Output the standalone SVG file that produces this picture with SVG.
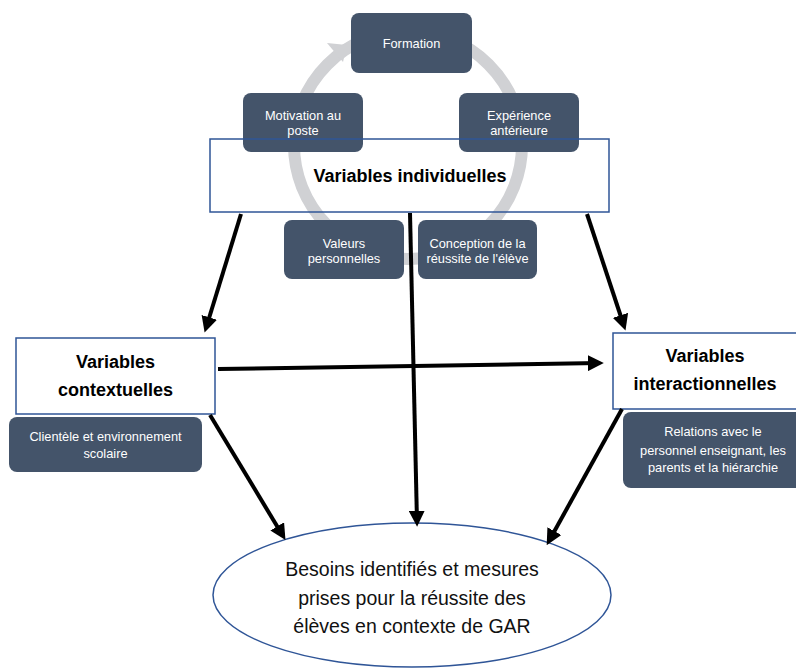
<svg xmlns="http://www.w3.org/2000/svg" width="796" height="670" viewBox="0 0 796 670">
<style>
.dk{fill:#44546A;}
.wt{font-family:"Liberation Sans",Arial,sans-serif;font-size:12.8px;fill:#ffffff;text-anchor:middle;}
.vb{fill:#ffffff;stroke:#2F5597;stroke-width:1.5;}
.vt{font-family:"Liberation Sans",Arial,sans-serif;font-size:18px;font-weight:bold;fill:#000000;text-anchor:middle;}
.bt{font-family:"Liberation Sans",Arial,sans-serif;font-size:19.5px;fill:#111111;text-anchor:middle;}
.ar{stroke:#000000;stroke-width:4;fill:none;marker-end:url(#ah);}
</style>
<defs>
<marker id="ah" viewBox="0 0 10 10" refX="7" refY="5" markerWidth="4" markerHeight="4" orient="auto" markerUnits="strokeWidth">
<path d="M0,0 L10,5 L0,10 z" fill="#000000"/>
</marker>
</defs>
<rect width="796" height="670" fill="#ffffff"/>
<g id="cycle">
<circle cx="408" cy="145" r="114" fill="none" stroke="#D0D1D4" stroke-width="12"/>
<polygon points="347,45 327,43 343,62" fill="#D0D1D4"/>
</g>
<g id="formation">
<rect class="dk" x="351" y="13" width="121" height="60" rx="8"/>
<text class="wt" x="411.5" y="47.5">Formation</text>
</g>
<g id="motivation">
<rect class="dk" x="243" y="93" width="120" height="59" rx="8"/>
<text class="wt" x="303" y="119.5">Motivation au</text>
<text class="wt" x="303" y="134.5">poste</text>
</g>
<g id="experience">
<rect class="dk" x="459" y="93" width="120" height="59" rx="8"/>
<text class="wt" x="519" y="119.5">Expérience</text>
<text class="wt" x="519" y="134.5">antérieure</text>
</g>
<g id="valeurs">
<rect class="dk" x="284" y="220" width="120" height="59" rx="8"/>
<text class="wt" x="344" y="247.5">Valeurs</text>
<text class="wt" x="344" y="262.5">personnelles</text>
</g>
<g id="conception">
<rect class="dk" x="418" y="220" width="119" height="59" rx="8"/>
<text class="wt" x="477.5" y="247.5">Conception de la</text>
<text class="wt" x="477.5" y="262.5">réussite de l'élève</text>
</g>
<g id="individuelles">
<rect x="210" y="139" width="399" height="73" fill="none" stroke="#2F5597" stroke-width="1.5"/>
<text class="vt" x="410" y="181.5">Variables individuelles</text>
</g>
<g id="contextuelles">
<rect class="vb" x="16" y="338" width="199" height="76"/>
<text class="vt" x="115.5" y="367.5">Variables</text>
<text class="vt" x="115.5" y="395.5">contextuelles</text>
</g>
<g id="clientele">
<rect class="dk" x="9" y="417" width="193" height="55" rx="8"/>
<text class="wt" x="105.5" y="441">Clientèle et environnement</text>
<text class="wt" x="105.5" y="458">scolaire</text>
</g>
<g id="interactionnelles">
<rect class="vb" x="613" y="333" width="185" height="76"/>
<text class="vt" x="705" y="362">Variables</text>
<text class="vt" x="705" y="390">interactionnelles</text>
</g>
<g id="relations">
<rect class="dk" x="623" y="412" width="182" height="76" rx="8"/>
<text class="wt" x="713" y="436">Relations avec le</text>
<text class="wt" x="713" y="455">personnel enseignant, les</text>
<text class="wt" x="713" y="472">parents et la hiérarchie</text>
</g>
<g id="besoins">
<ellipse cx="412" cy="595" rx="199" ry="72" fill="#ffffff" stroke="#2F5597" stroke-width="1.5"/>
<text class="bt" x="412" y="576">Besoins identifiés et mesures</text>
<text class="bt" x="412" y="605">prises pour la réussite des</text>
<text class="bt" x="412" y="633">élèves en contexte de GAR</text>
</g>
<g id="connectors">
<line class="ar" x1="241" y1="214" x2="206" y2="328"/>
<line class="ar" x1="410" y1="213" x2="417" y2="522"/>
<line class="ar" x1="587" y1="214" x2="624" y2="326"/>
<line class="ar" x1="218" y1="369" x2="599" y2="363"/>
<line class="ar" x1="210" y1="415" x2="283" y2="536"/>
<line class="ar" x1="622" y1="409" x2="549" y2="541"/>
</g>
</svg>
